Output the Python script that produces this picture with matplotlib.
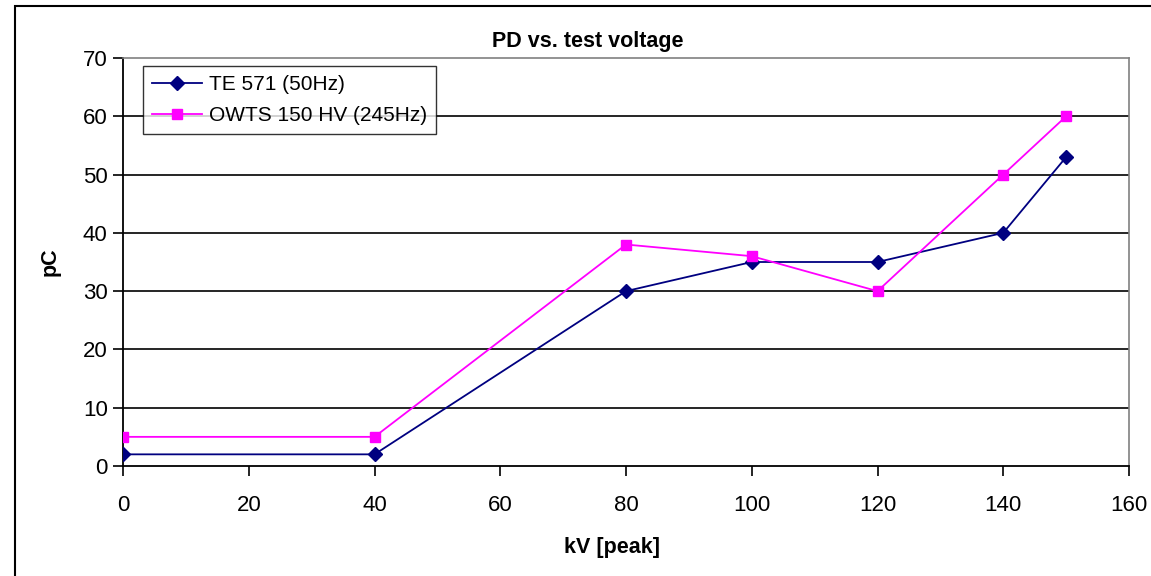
import matplotlib.pyplot as plt
from matplotlib.patches import Rectangle

# Data
kv = [0, 40, 80, 100, 120, 140, 150]
te571 = [2, 2, 30, 35, 35, 40, 53]
owts = [5, 5, 38, 36, 30, 50, 60]

x_ticks = [0, 20, 40, 60, 80, 100, 120, 140, 160]
y_ticks = [0, 10, 20, 30, 40, 50, 60, 70]

plt.rcParams['font.family'] = ['Liberation Sans', 'DejaVu Sans']

fig = plt.figure(figsize=(11.51, 5.76), dpi=100)
ax = fig.add_axes([123 / 1151, 1 - 466 / 576, (1129 - 123) / 1151, (466 - 58) / 576])

# outer chart border (Excel style)
fig.patches.append(Rectangle((15 / 1151, -0.01), 1.1, 1 - 6 / 576 + 0.01, transform=fig.transFigure,
                             fill=False, edgecolor='black', linewidth=1.5))

for y in y_ticks[1:-1]:
    ax.axhline(y, color='black', linewidth=1.2, zorder=1)

ax.plot(kv, te571, color='#000080', marker='D', markersize=7, linewidth=1.3,
        label='TE 571 (50Hz)', zorder=3)
ax.plot(kv, owts, color='#FF00FF', marker='s', markersize=7, linewidth=1.3,
        label='OWTS 150 HV (245Hz)', zorder=3)

ax.set_xlim(0, 160)
ax.set_ylim(0, 70)
ax.set_xticks(x_ticks)
ax.set_yticks(y_ticks)
ax.tick_params(direction='out', length=7, width=1.2, labelsize=16, colors='black', pad=4)
ax.tick_params(axis='x', pad=14)

ax.spines['left'].set_linewidth(1.3)
ax.spines['bottom'].set_linewidth(1.3)
ax.spines['top'].set_color('#808080')
ax.spines['right'].set_color('#808080')
ax.spines['top'].set_linewidth(1.2)
ax.spines['right'].set_linewidth(1.2)

fig.text(588 / 1151, 1 - 42 / 576, 'PD vs. test voltage', ha='center', va='center',
         fontsize=15.5, fontweight='bold')
fig.text(612 / 1151, 1 - 548 / 576, 'kV [peak]', ha='center', va='center',
         fontsize=15.5, fontweight='bold')
fig.text(50 / 1151, 1 - 262 / 576, 'pC', ha='center', va='center', rotation=90,
         fontsize=15.5, fontweight='bold')

leg = ax.legend(loc='upper left', bbox_to_anchor=(20 / 1006, 1 - 8 / 408), fontsize=15,
                frameon=True, fancybox=False, edgecolor='black', borderaxespad=0,
                handlelength=2.4, handletextpad=0.3, borderpad=0.45, labelspacing=0.55)
leg.get_frame().set_linewidth(1.0)

fig.savefig('out.png', dpi=100)
